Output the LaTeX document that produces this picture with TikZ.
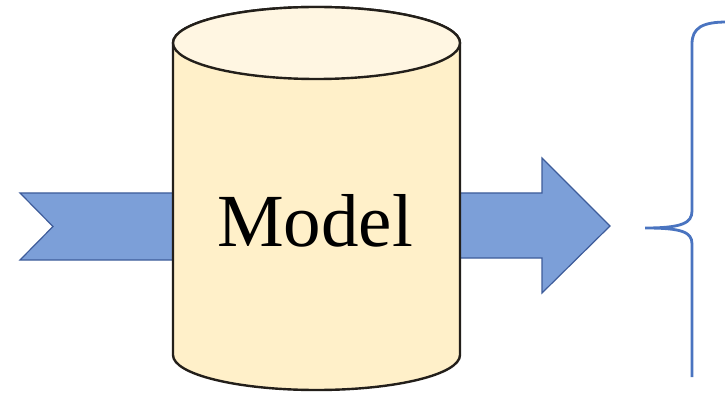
\documentclass[tikz,border=0pt]{standalone}
\usepackage{fontspec}
\setmainfont{Liberation Serif}
\begin{document}
\begin{tikzpicture}[x=1pt,y=1pt,
  flow/.style={fill=arrowblue, draw=arrowedge, line width=1.2pt, line join=miter},
  drum/.style={fill=drumbody, draw=drumedge, line width=2.4pt},
  drumlid/.style={fill=drumtop, draw=drumedge, line width=2.4pt},
  bracket/.style={draw=braceblue, line width=2.8pt, line cap=butt},
  label/.style={font=\fontsize{75}{84}\selectfont, text=black, inner sep=0pt}]
\definecolor{arrowblue}{HTML}{7C9FD8}
\definecolor{arrowedge}{HTML}{3E5C9A}
\definecolor{drumbody}{HTML}{FFF0C9}
\definecolor{drumtop}{HTML}{FFF6E2}
\definecolor{drumedge}{HTML}{231F1A}
\definecolor{braceblue}{HTML}{4A74C0}
\useasboundingbox (0,0) rectangle (725,394);

% incoming notched arrow (tail hidden behind the drum)
\coordinate (inA) at (20,201);
\coordinate (inB) at (185,201);
\coordinate (inC) at (185,134);
\coordinate (inD) at (20,134);
\coordinate (inN) at (53,167.5);
\draw[flow] (inA) -- (inB) -- (inC) -- (inD) -- (inN) -- cycle;

% outgoing block arrow
\coordinate (outA) at (450,201);
\coordinate (outB) at (542,201);
\coordinate (outC) at (542,236);
\coordinate (outT) at (610,168);
\coordinate (outD) at (542,101);
\coordinate (outE) at (542,136);
\coordinate (outF) at (450,136);
\draw[flow] (outA) -- (outB) -- (outC) -- (outT) -- (outD) -- (outE) -- (outF) -- cycle;

% the drum
\draw[drum] (173,351) -- (173,39) arc[start angle=180, end angle=360, x radius=143.5, y radius=35]
  -- (460,351) arc[start angle=0, end angle=180, x radius=143.5, y radius=36] -- cycle;
\draw[drumlid] (316.5,351) ellipse[x radius=143.5, y radius=36];
\node[label, anchor=base] (model) at (315,148) {Model};

% curly bracket opening to the right
\coordinate (brTop) at (727,372);
\coordinate (brCusp) at (645,166);
\coordinate (brBot) at (692,17);
\draw[bracket] (brTop) .. controls (702,372) and (692,366) .. (692,350)
  -- (692,183) .. controls (692,171) and (682,166) .. (brCusp)
  .. controls (682,166) and (692,162) .. (692,150) -- (brBot);
\end{tikzpicture}
\end{document}
